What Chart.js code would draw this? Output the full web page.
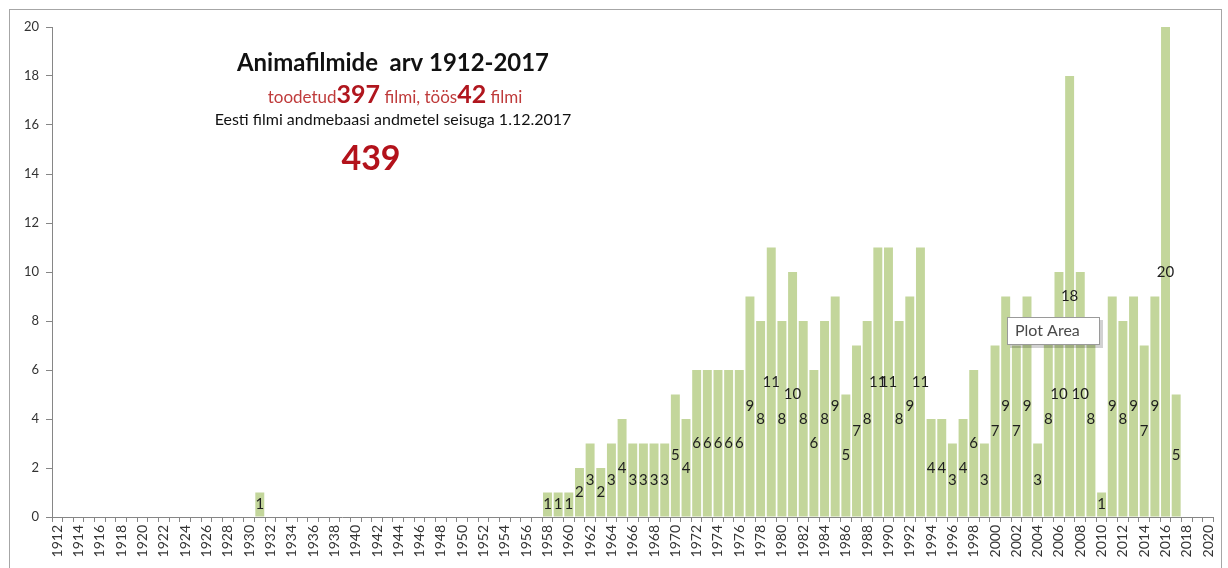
<!DOCTYPE html>
<html>
<head>
<meta charset="utf-8">
<script src="https://cdn.jsdelivr.net/npm/chart.js"></script>
<style>
  html, body { margin: 0; padding: 0; background: #fff; overflow: hidden; }
  #wrap { position: relative; width: 1228px; height: 568px; }
</style>
</head>
<body>
<div id="wrap"><canvas id="chart"></canvas></div>
<script>
// aastad 1912-2020, ühe kaupa
const years = [
  1912, 1913, 1914, 1915, 1916, 1917, 1918, 1919, 1920, 1921,
  1922, 1923, 1924, 1925, 1926, 1927, 1928, 1929, 1930, 1931,
  1932, 1933, 1934, 1935, 1936, 1937, 1938, 1939, 1940, 1941,
  1942, 1943, 1944, 1945, 1946, 1947, 1948, 1949, 1950, 1951,
  1952, 1953, 1954, 1955, 1956, 1957, 1958, 1959, 1960, 1961,
  1962, 1963, 1964, 1965, 1966, 1967, 1968, 1969, 1970, 1971,
  1972, 1973, 1974, 1975, 1976, 1977, 1978, 1979, 1980, 1981,
  1982, 1983, 1984, 1985, 1986, 1987, 1988, 1989, 1990, 1991,
  1992, 1993, 1994, 1995, 1996, 1997, 1998, 1999, 2000, 2001,
  2002, 2003, 2004, 2005, 2006, 2007, 2008, 2009, 2010, 2011,
  2012, 2013, 2014, 2015, 2016, 2017, 2018, 2019, 2020
];

// filmide arv aastas (samas järjekorras)
const films = [
  0, 0, 0, 0, 0, 0, 0, 0, 0, 0,
  0, 0, 0, 0, 0, 0, 0, 0, 0, 1,
  0, 0, 0, 0, 0, 0, 0, 0, 0, 0,
  0, 0, 0, 0, 0, 0, 0, 0, 0, 0,
  0, 0, 0, 0, 0, 0, 1, 1, 1, 2,
  3, 2, 3, 4, 3, 3, 3, 3, 5, 4,
  6, 6, 6, 6, 6, 9, 8, 11, 8, 10,
  8, 6, 8, 9, 5, 7, 8, 11, 11, 8,
  9, 11, 4, 4, 3, 4, 6, 3, 7, 9,
  7, 9, 3, 8, 10, 18, 10, 8, 1, 9,
  8, 9, 7, 9, 20, 5, 0, 0, 0
];

const yTicks = [0, 2, 4, 6, 8, 10, 12, 14, 16, 18, 20];

const titleText = 'Animafilmide  arv 1912-2017';
const subParts = [
  ['toodetud', false], ['397', true], [' filmi, töös', false], ['42', true], [' filmi', false]
];
const sourceText = 'Eesti filmi andmebaasi andmetel seisuga 1.12.2017';
const totalText = '439';

const FONT = 'Lato, "Open Sans", sans-serif';

// raam ja taust
const framePlugin = {
  id: 'frame',
  beforeDraw(chart) {
    const ctx = chart.ctx;
    ctx.save();
    ctx.fillStyle = '#fff';
    ctx.fillRect(0, 0, chart.width, chart.height);
    ctx.strokeStyle = '#a6a6a6';
    ctx.lineWidth = 1;
    ctx.strokeRect(9.5, 9.5, 1212, 700);
    ctx.restore();
  }
};

// väärtused tulba keskele
const valueLabels = {
  id: 'valueLabels',
  afterDatasetsDraw(chart) {
    const ctx = chart.ctx;
    const meta = chart.getDatasetMeta(0);
    ctx.save();
    ctx.font = '15px ' + FONT;
    ctx.fillStyle = '#1e1e1e';
    ctx.textAlign = 'center';
    ctx.textBaseline = 'middle';
    meta.data.forEach((bar, i) => {
      const v = films[i];
      if (!v) return;
      ctx.fillText(String(v), bar.x, (bar.y + bar.base) / 2);
    });
    ctx.restore();
  }
};

// pealkirjad
const titles = {
  id: 'titles',
  afterDraw(chart) {
    const ctx = chart.ctx;
    ctx.save();
    ctx.textBaseline = 'alphabetic';
    ctx.textAlign = 'center';
    ctx.fillStyle = '#111';
    ctx.font = 'bold 24px ' + FONT;
    ctx.fillText(titleText, 393, 71, 312);

    // punane rida, segatud fondid
    const fonts = { false: '17px ' + FONT, true: 'bold 25px ' + FONT };
    const cols = { false: '#bf3b3b', true: '#b0161e' };
    let total = 0;
    subParts.forEach(([t, b]) => { ctx.font = fonts[b]; total += ctx.measureText(t).width; });
    let x = 395 - total / 2;
    ctx.textAlign = 'left';
    subParts.forEach(([t, b]) => {
      ctx.font = fonts[b];
      ctx.fillStyle = cols[b];
      ctx.fillText(t, x, 103);
      x += ctx.measureText(t).width;
    });

    ctx.textAlign = 'center';
    ctx.fillStyle = '#111';
    ctx.font = '16px ' + FONT;
    ctx.fillText(sourceText, 393, 125, 382);

    ctx.fillStyle = '#b3121b';
    ctx.font = 'bold 34px ' + FONT;
    ctx.fillText(totalText, 371, 170);

    // Excel'i "Plot Area" vihje
    ctx.fillStyle = 'rgba(0,0,0,0.18)';
    ctx.fillRect(1010, 320, 93, 28);
    ctx.fillStyle = '#fff';
    ctx.fillRect(1007, 317, 92, 27);
    ctx.strokeStyle = '#9a9a9a';
    ctx.strokeRect(1007.5, 317.5, 92, 27);
    ctx.fillStyle = '#4a4a4a';
    ctx.font = '16px ' + FONT;
    ctx.textAlign = 'left';
    ctx.textBaseline = 'middle';
    ctx.fillText('Plot Area', 1015, 331);
    ctx.restore();
  }
};

new Chart(document.getElementById('chart'), {
  type: 'bar',
  data: {
    labels: years,
    datasets: [{
      data: films,
      backgroundColor: '#c3d69b',
      borderWidth: 0,
      categoryPercentage: 1,
      barPercentage: 0.84
    }]
  },
  options: {
    responsive: true,
    maintainAspectRatio: false,
    animation: false,
    layout: { padding: { left: 0, right: 12, top: 27, bottom: 0 } },
    plugins: { legend: { display: false }, tooltip: { enabled: false }, title: { display: false } },
    scales: {
      x: {
        offset: true,
        grid: { display: true, drawOnChartArea: false, offset: true, color: '#868686', tickLength: 5 },
        border: { color: '#868686' },
        ticks: {
          autoSkip: false,
          minRotation: 90,
          maxRotation: 90,
          padding: 3,
          color: '#333',
          font: { family: FONT, size: 14 },
          callback: (v, i) => (i % 2 === 0 ? years[i] : '')
        },
        afterFit(scale) { scale.height = 51; }
      },
      y: {
        min: 0,
        max: 20,
        afterBuildTicks(scale) { scale.ticks = yTicks.map(v => ({ value: v })); },
        grid: { drawOnChartArea: false, color: '#868686', tickLength: 6 },
        border: { color: '#868686' },
        ticks: { padding: 7, color: '#333', font: { family: FONT, size: 13 } },
        afterFit(scale) { scale.width = 52; }
      }
    }
  },
  plugins: [framePlugin, valueLabels, titles]
});
</script>
</body>
</html>
